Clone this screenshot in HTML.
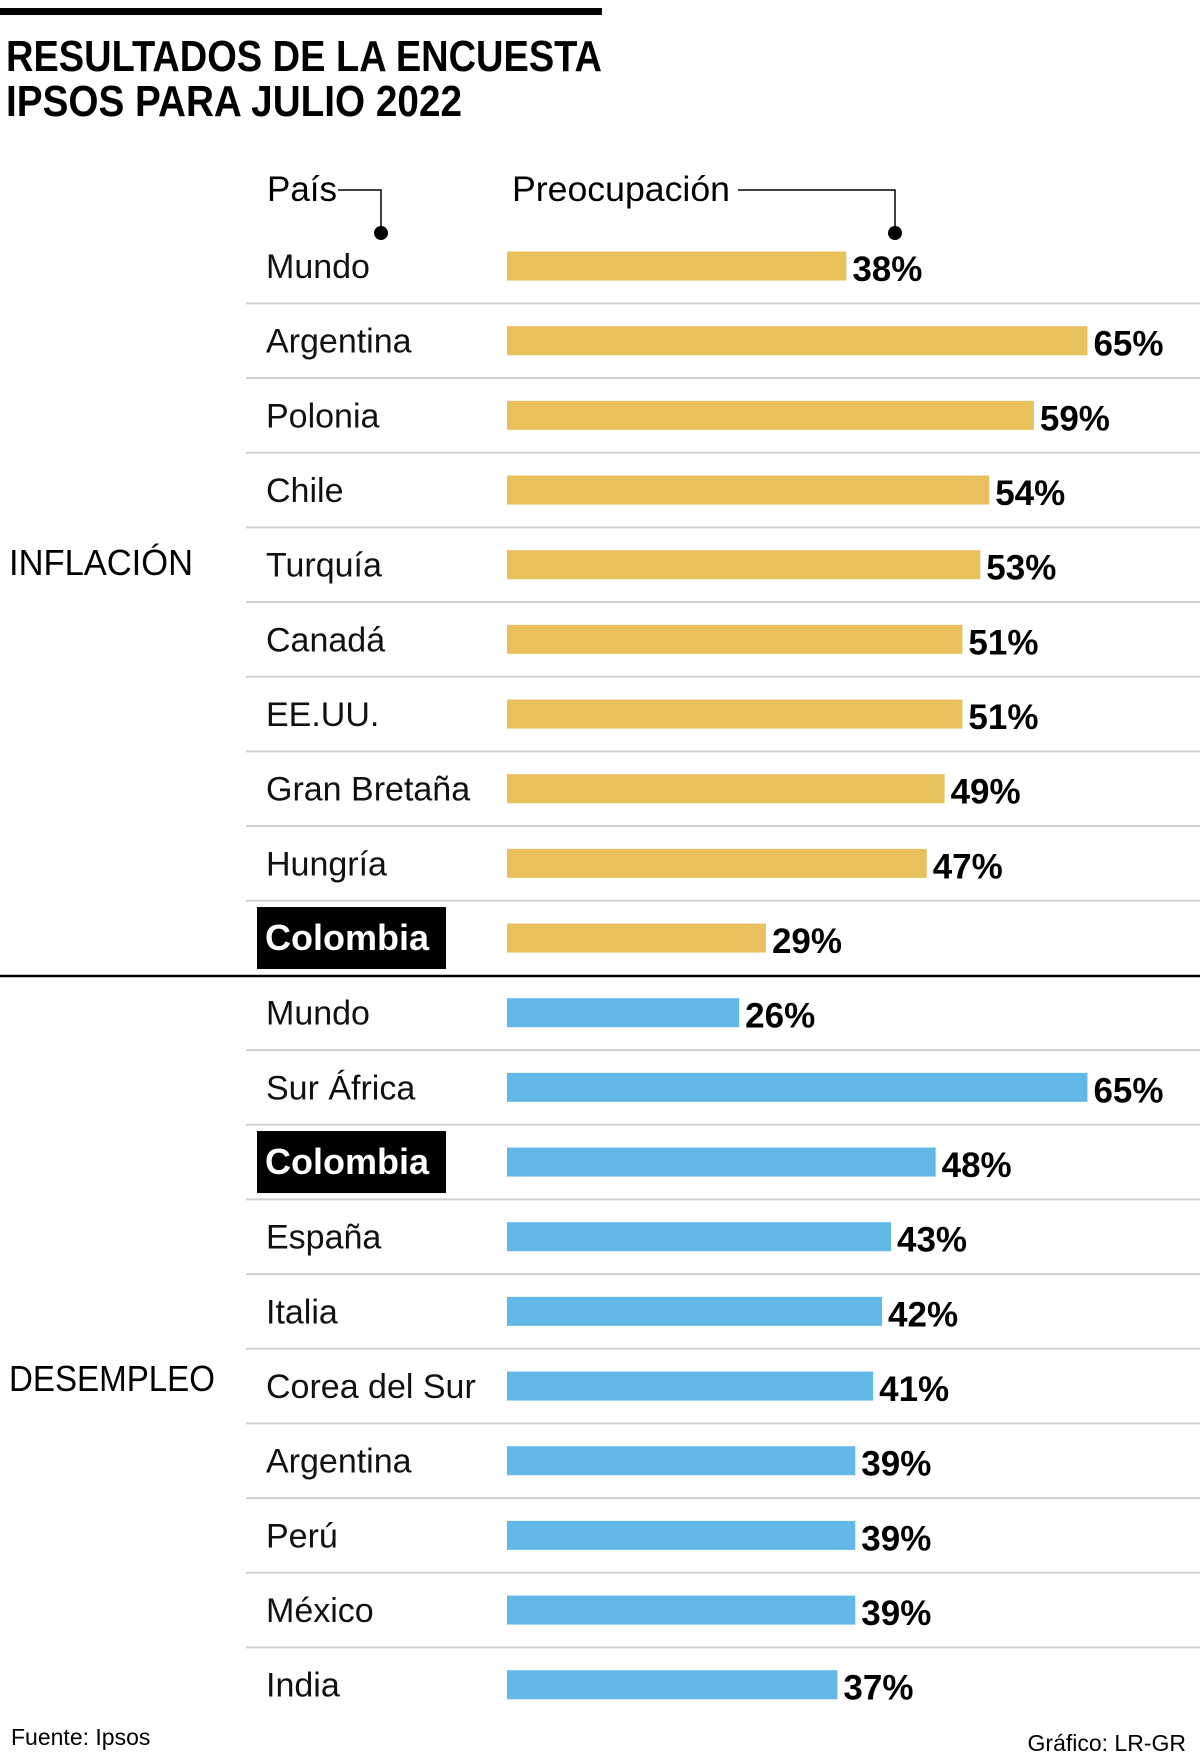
<!DOCTYPE html>
<html><head><meta charset="utf-8"><style>
body{margin:0;background:#fff;}
svg{display:block;font-family:"Liberation Sans Narrow","Liberation Sans",sans-serif;}
</style></head><body>
<svg id="chart" width="1200" height="1758" viewBox="0 0 1200 1758">
<rect x="0" y="8" width="602" height="7" fill="#000"/>
<text x="6" y="71" font-size="44" font-weight="bold" textLength="596" lengthAdjust="spacingAndGlyphs">RESULTADOS DE LA ENCUESTA</text>
<text x="6" y="116" font-size="44" font-weight="bold" textLength="456" lengthAdjust="spacingAndGlyphs">IPSOS PARA JULIO 2022</text>
<text x="267" y="201" font-size="35" font-weight="300">País</text>
<path d="M338 190 H381 V233" stroke="#000" stroke-width="1.5" fill="none"/>
<circle cx="381" cy="233" r="7" fill="#000"/>
<text x="512" y="201" font-size="35" font-weight="300" textLength="218" lengthAdjust="spacingAndGlyphs">Preocupación</text>
<path d="M738 190 H895 V233" stroke="#000" stroke-width="1.5" fill="none"/>
<circle cx="895" cy="233" r="7" fill="#000"/>
<text x="9" y="575" font-size="36" textLength="184" lengthAdjust="spacingAndGlyphs">INFLACIÓN</text>
<text x="9" y="1391" font-size="36" textLength="206" lengthAdjust="spacingAndGlyphs">DESEMPLEO</text>
<line x1="0" y1="976" x2="1200" y2="976" stroke="#000" stroke-width="2.5"/>
<g id="rows"></g>
<text x="11" y="1745" font-size="23" font-weight="300">Fuente: Ipsos</text>
<text x="1186" y="1751" font-size="23" font-weight="300" text-anchor="end">Gráfico: LR-GR</text>
</svg>
<script>
const inflationCountries=["Mundo","Argentina","Polonia","Chile","Turquía","Canadá","EE.UU.","Gran Bretaña","Hungría","Colombia"];
const inflationValues=[38,65,59,54,53,51,51,49,47,29];
const unemploymentCountries=["Mundo","Sur África","Colombia","España","Italia","Corea del Sur","Argentina","Perú","México","India"];
const unemploymentValues=[26,65,48,43,42,41,39,39,39,37];
const NS="http://www.w3.org/2000/svg";
const g=document.getElementById("rows");
const x0=507;
function xw(v){return 8.93*v;}
function rowY(i){return 266+i*74.67;}
function mk(tag,attrs){const e=document.createElementNS(NS,tag);for(const k in attrs)e.setAttribute(k,attrs[k]);g.appendChild(e);return e;}
function drawGroup(countries,values,offset,color,key){
  countries.forEach((c,j)=>{
    const i=offset+j, cy=rowY(i), v=values[j], w=xw(v);
    if(j>0){
      const ln=mk("line",{x1:246,x2:1200,y1:cy-37.3,y2:cy-37.3,stroke:"#d0d0d0","stroke-width":2});
      
      
    }
    const hl=c==="Colombia";
    if(hl){
      const bx=mk("rect",{x:257,y:cy-31,width:189,height:62,fill:"#000"});
      
      
    }
    const t=mk("text",{x:hl?265:266,y:cy+12,"font-size":hl?36:34,"font-weight":hl?"bold":"300",fill:hl?"#fff":"#111"});
    t.textContent=c;
    
    
    const b=mk("rect",{x:x0,y:cy-14.5,width:w,height:29,fill:color});
    
    
    const vt=mk("text",{x:x0+w+6,y:cy+15,"font-size":35,"font-weight":"bold",fill:"#000"});
    vt.textContent=v+"%";
    
    
  });
}
drawGroup(inflationCountries,inflationValues,0,"#E8C05C","inflation");
drawGroup(unemploymentCountries,unemploymentValues,10,"#62B8E7","unemployment");
</script>
</body></html>
